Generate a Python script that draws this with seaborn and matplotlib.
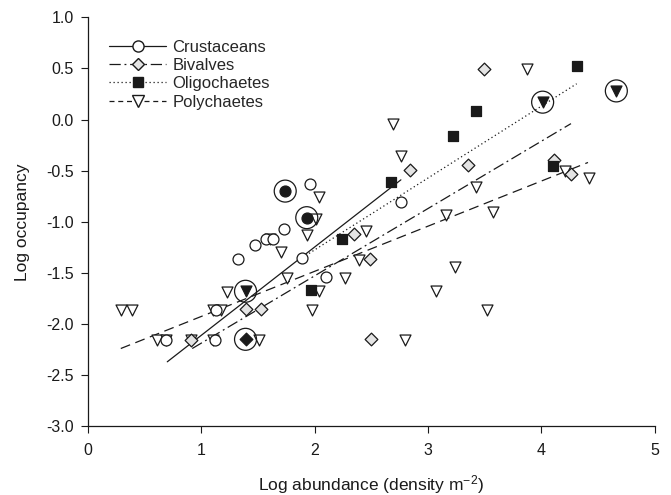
import matplotlib
matplotlib.use("Agg")
import matplotlib.pyplot as plt
from matplotlib.lines import Line2D
import seaborn as sns

# ---- data ----
crus_x = [0.69, 1.12, 1.13, 1.32, 1.47, 1.57, 1.63, 1.73, 1.89, 1.96, 2.10, 2.76]
crus_y = [-2.16, -2.16, -1.86, -1.36, -1.23, -1.17, -1.17, -1.07, -1.35, -0.63, -1.54, -0.81]

biv_x = [0.91, 1.39, 1.53, 2.35, 2.49, 2.50, 2.84, 3.35, 3.49, 4.11, 4.26]
biv_y = [-2.16, -1.85, -1.85, -1.12, -1.36, -2.15, -0.49, -0.44, 0.49, -0.40, -0.53]

olig_x = [1.97, 2.24, 2.67, 3.22, 3.42, 4.10, 4.31]
olig_y = [-1.67, -1.17, -0.61, -0.16, 0.08, -0.45, 0.52]

poly_x = [0.29, 0.39, 0.61, 0.69, 0.91, 1.10, 1.10, 1.17, 1.23, 1.51, 1.61, 1.70,
          1.76, 1.93, 1.98, 2.01, 2.04, 2.04, 2.27, 2.39, 2.45, 2.69, 2.76, 2.80,
          3.07, 3.16, 3.24, 3.42, 3.52, 3.57, 3.87, 4.21, 4.42]
poly_y = [-1.86, -1.86, -2.16, -2.16, -2.16, -2.16, -1.86, -1.86, -1.69, -2.16, -1.17, -1.30,
          -1.55, -1.13, -1.86, -0.97, -0.76, -1.68, -1.55, -1.37, -1.09, -0.04, -0.36, -2.16,
          -1.68, -0.93, -1.44, -0.66, -1.86, -0.90, 0.49, -0.50, -0.57]

# highlighted (ringed, filled) points
hl_crus_x = [1.74, 1.93]
hl_crus_y = [-0.70, -0.96]
hl_biv_x = [1.39]
hl_biv_y = [-2.15]
hl_poly_x = [1.39, 4.01, 4.66]
hl_poly_y = [-1.68, 0.17, 0.28]

# fitted lines (end points)
crus_line_x = [0.70, 2.76]
crus_line_y = [-2.37, -0.59]
biv_line_x = [0.92, 4.26]
biv_line_y = [-2.24, -0.04]
olig_line_x = [1.95, 4.31]
olig_line_y = [-1.31, 0.35]
poly_line_x = [0.29, 4.41]
poly_line_y = [-2.24, -0.42]

x_ticks = [0, 1, 2, 3, 4, 5]
y_ticks = [-3.0, -2.5, -2.0, -1.5, -1.0, -0.5, 0.0, 0.5, 1.0]
labels = ["Crustaceans", "Bivalves", "Oligochaetes", "Polychaetes"]

# ---- style ----
sns.set_style("ticks")
plt.rcParams['font.family'] = ['Liberation Sans', 'DejaVu Sans']
plt.rcParams['mathtext.default'] = 'regular'

fig = plt.figure(figsize=(6.71, 4.95), dpi=100)
ax = fig.add_axes([0.131, 0.139, 0.845, 0.826])

K = "#1a1a1a"
dash_dot = (0, (9, 3, 1.5, 3))
dotted = (0, (1, 2.2))
long_dash = (0, (8, 4.5))

# lines
for lx, ly, ls in [(crus_line_x, crus_line_y, "-"),
                   (biv_line_x, biv_line_y, dash_dot),
                   (olig_line_x, olig_line_y, dotted),
                   (poly_line_x, poly_line_y, long_dash)]:
    sns.lineplot(x=lx, y=ly, ax=ax, color=K, linewidth=0.9, legend=False)
    ax.lines[-1].set_linestyle(ls)

ms = 62
lw = 0.9
sns.scatterplot(x=poly_x, y=poly_y, ax=ax, marker="v", s=ms, facecolor="white",
                edgecolor=K, linewidth=lw, zorder=3, legend=False)
sns.scatterplot(x=crus_x, y=crus_y, ax=ax, marker="o", s=ms, facecolor="white",
                edgecolor=K, linewidth=lw, zorder=3, legend=False)
sns.scatterplot(x=biv_x, y=biv_y, ax=ax, marker="D", s=42, facecolor="#e4e4e4",
                edgecolor=K, linewidth=lw, zorder=3, legend=False)
sns.scatterplot(x=olig_x, y=olig_y, ax=ax, marker="s", s=52, facecolor=K,
                edgecolor=K, linewidth=lw, zorder=3, legend=False)

# highlighted points: filled marker with ring
sns.scatterplot(x=hl_crus_x, y=hl_crus_y, ax=ax, marker="o", s=ms, facecolor=K,
                edgecolor=K, linewidth=lw, zorder=4, legend=False)
sns.scatterplot(x=hl_biv_x, y=hl_biv_y, ax=ax, marker="D", s=42, facecolor=K,
                edgecolor=K, linewidth=lw, zorder=4, legend=False)
sns.scatterplot(x=hl_poly_x, y=hl_poly_y, ax=ax, marker="v", s=ms, facecolor=K,
                edgecolor=K, linewidth=lw, zorder=4, legend=False)
ring_x = hl_crus_x + hl_biv_x + hl_poly_x
ring_y = hl_crus_y + hl_biv_y + hl_poly_y
sns.scatterplot(x=ring_x, y=ring_y, ax=ax, marker="o", s=250, facecolor="none",
                edgecolor=K, linewidth=lw, zorder=4, legend=False)

ax.set_xlim(0, 5)
ax.set_ylim(-3.0, 1.0)
ax.set_xticks(x_ticks)
ax.set_xticklabels([str(t) for t in x_ticks])
ax.set_yticks(y_ticks)
ax.set_yticklabels([f"{t:.1f}" for t in y_ticks])
ax.tick_params(axis="both", direction="out", length=5, width=0.8, labelsize=11.5,
               colors=K, pad=5)
ax.tick_params(axis="x", pad=7)
for s in ["left", "bottom"]:
    ax.spines[s].set_linewidth(0.9)
    ax.spines[s].set_color(K)
sns.despine(ax=ax)

ax.set_xlabel("Log abundance (density m$^{-2}$)", fontsize=12.5, labelpad=11, color=K)
ax.set_ylabel("Log occupancy", fontsize=12.5, labelpad=12, color=K)

handles = [
    Line2D([], [], color=K, lw=0.9, ls="-", marker="o", markersize=8,
           markerfacecolor="white", markeredgecolor=K),
    Line2D([], [], color=K, lw=0.9, ls=dash_dot, marker="D", markersize=6.5,
           markerfacecolor="#e4e4e4", markeredgecolor=K),
    Line2D([], [], color=K, lw=0.9, ls=dotted, marker="s", markersize=7,
           markerfacecolor=K, markeredgecolor=K),
    Line2D([], [], color=K, lw=0.9, ls=(0, (4, 3)), marker="v", markersize=8,
           markerfacecolor="white", markeredgecolor=K),
]
ax.legend(handles, labels, loc="upper left", bbox_to_anchor=(0.02, 0.97),
          frameon=False, fontsize=12, handlelength=3.4, handletextpad=0.4,
          labelspacing=0.2, borderaxespad=0.2)

fig.savefig("out.png", dpi=100)
